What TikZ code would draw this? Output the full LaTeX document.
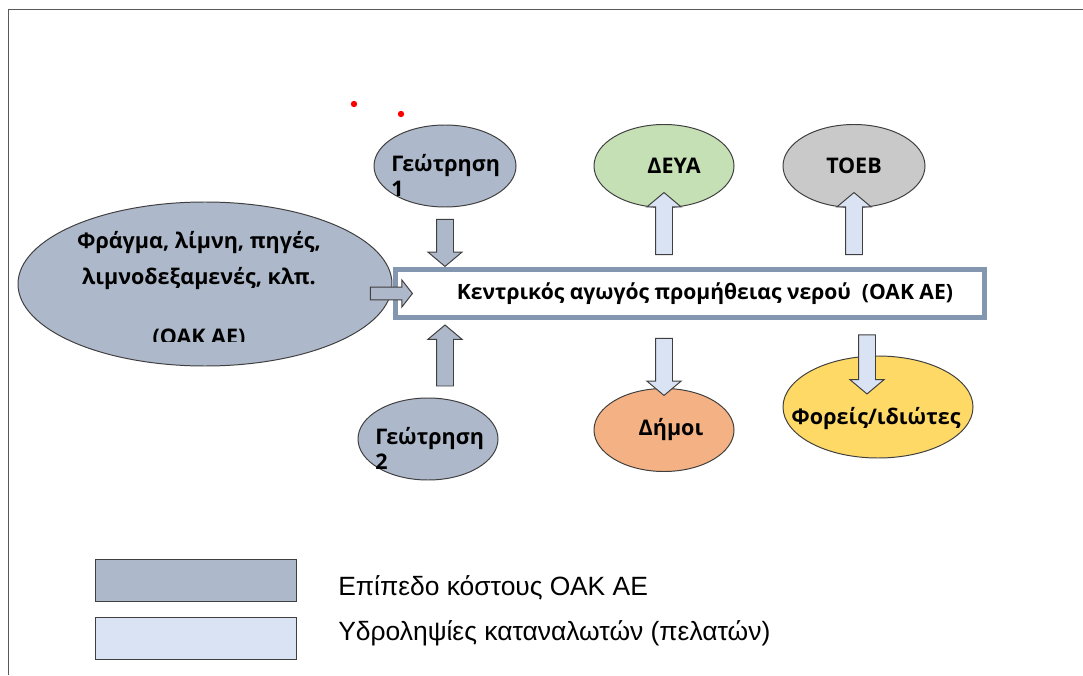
\documentclass[tikz,border=0pt]{standalone}
\usepackage{fontspec}
\setmainfont{Liberation Sans}
\newfontfamily\lblfont{Open Sans}
\usetikzlibrary{shapes.geometric,shapes.arrows,calc}
\definecolor{oakline}{HTML}{3F3F3F}
\definecolor{oakframe}{HTML}{595959}
\definecolor{oakcost}{HTML}{ADB9CA}
\definecolor{oakuse}{HTML}{DAE3F3}
\definecolor{oakpipe}{HTML}{8497B0}
\definecolor{oakgreen}{HTML}{C5E0B4}
\definecolor{oakgrey}{HTML}{C9C9C9}
\definecolor{oakorange}{HTML}{F4B183}
\definecolor{oakyellow}{HTML}{FFD966}
\tikzset{
  ov/.style={ellipse, draw=oakline, line width=0.7pt, inner sep=0pt, font=\lblfont\bfseries\fontsize{15.3}{18}\selectfont},
  cost/.style={ov, fill=oakcost},
  txt/.style={inner sep=0pt, font=\lblfont\bfseries\fontsize{15.3}{18}\selectfont},
  pipebox/.style={draw=oakpipe, line width=3.5pt, fill=white, inner sep=0pt, minimum width=14.725cm, minimum height=1.2cm, font=\lblfont\bfseries\fontsize{15}{18}\selectfont},
  barr/.style={single arrow, draw=oakline, line width=0.7pt, inner xsep=0pt, inner ysep=0.2cm, single arrow head extend=0.2125cm, single arrow tip angle=100},
  costarr/.style={barr, fill=oakcost},
  usearr/.style={barr, fill=oakuse},
  lgd/.style={draw=oakline, line width=0.7pt, minimum width=5.025cm, minimum height=1.05cm, inner sep=0pt},
  lgdtxt/.style={anchor=west, inner sep=0pt, font=\fontsize{18.8}{22}\selectfont},
}
\begin{document}
\begin{tikzpicture}
  \useasboundingbox (0,0) rectangle (27.075,16.875);
  \draw[oakframe, line width=1.1pt] (0.215,0) -- (0.215,16.6425) -- (27.075,16.6425);
  \fill[red] (8.85,14.275) circle (0.08) (10.025,14.025) circle (0.08);
  % sources
  \node[cost, minimum width=9.35cm, minimum height=4.1cm] (src) at (5.125,9.775) {};
  \begin{scope}
    \clip (0,8.35) rectangle (27.075,16.875);
    \node[txt, align=center, font=\lblfont\bfseries\fontsize{15.3}{25.6}\selectfont] (srct) at (4.975,9.625) {Φράγμα, λίμνη, πηγές,\\λιμνοδεξαμενές, κλπ.\\[0.6cm](ΟΑΚ ΑΕ)};
  \end{scope}
  \node[cost, minimum width=3.55cm, minimum height=2.05cm] (g1) at (11.125,12.725) {};
  \node[txt, align=left, anchor=west] (g1t) at (9.775,12.49) {Γεώτρηση\\1};
  \node[cost, minimum width=3.5cm, minimum height=2.05cm] (g2) at (10.7,5.9) {};
  \node[txt, align=left, anchor=west] (g2t) at (9.375,5.66) {Γεώτρηση\\2};
  % central pipe
  \node[pipebox] (pipe) at (17.25,9.5375) {\hspace*{0.75cm}Κεντρικός αγωγός προμήθειας νερού \ (ΟΑΚ ΑΕ)};
  % consumers
  \node[ov, fill=oakgreen, minimum width=3.5cm, minimum height=2.075cm] (deya) at (16.6,12.725) {\hspace*{0.5cm}ΔΕΥΑ};
  \node[ov, fill=oakgrey, minimum width=3.55cm, minimum height=2.075cm] (toeb) at (21.35,12.725) {ΤΟΕΒ};
  \node[ov, fill=oakorange, minimum width=3.5cm, minimum height=2.075cm] (dimoi) at (16.6,6.125) {\hspace*{0.35cm}Δήμοι};
  \node[ov, fill=oakyellow, minimum width=4.75cm, minimum height=2.55cm] (foreis) at (21.95,6.7) {};
  \node[txt] (foreist) at (21.9,6.4) {Φορείς/ιδιώτες};
  % block arrows
  \node[costarr, rotate=-90, minimum height=1.175cm, anchor=tip] (g1arr) at (pipe.north -| g1) {};
  \node[costarr, rotate=90, minimum height=1.525cm, anchor=tip] (g2arr) at ([yshift=-0.11cm]pipe.south -| g1arr.tail) {};
  \node[costarr, minimum height=1.05cm, inner ysep=0.15cm, single arrow head extend=0.175cm, single arrow tip angle=104, anchor=tip] (srcarr) at ([xshift=0.5cm]pipe.west) {};
  \node[usearr, rotate=90, minimum height=1.55cm, anchor=tail] (deyaarr) at ([yshift=0.3cm]pipe.north -| deya) {};
  \node[usearr, rotate=90, minimum height=1.55cm, anchor=tail] (toebarr) at ([yshift=0.3cm]pipe.north -| toeb) {};
  \node[usearr, rotate=-90, minimum height=1.425cm, anchor=tail] (dimoiarr) at ([yshift=-0.45cm]pipe.south -| dimoi) {};
  \node[usearr, rotate=-90, minimum height=1.475cm, anchor=tail] (foreisarr) at ([xshift=-0.275cm,yshift=-0.3625cm]pipe.south -| foreis) {};
  % legend
  \node[lgd, fill=oakcost] (lg1) at (4.8875,2.375) {};
  \node[lgd, fill=oakuse] (lg2) at (4.8875,0.925) {};
  \node[lgdtxt] (lg1t) at (8.45,2.175) {Επίπεδο κόστους ΟΑΚ ΑΕ};
  \node[lgdtxt] (lg2t) at (8.45,1.05) {Υδροληψίες καταναλωτών (πελατών)};
\end{tikzpicture}
\end{document}
